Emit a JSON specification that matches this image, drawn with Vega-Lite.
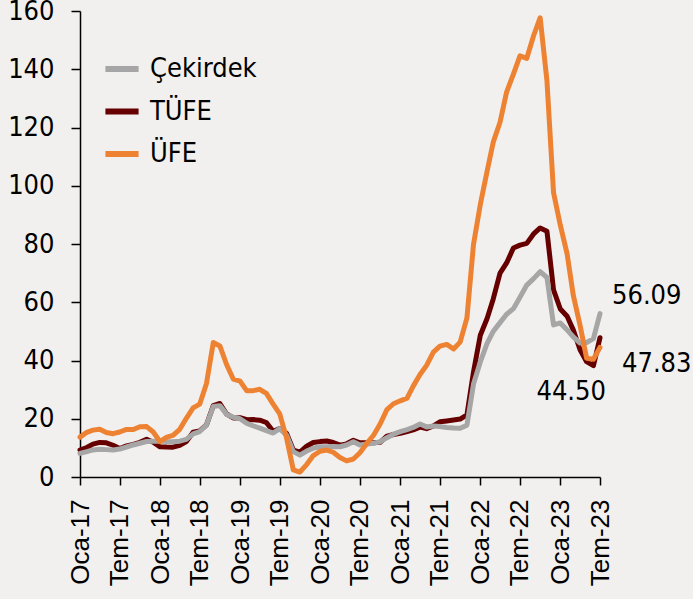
{
  "$schema": "https://vega.github.io/schema/vega-lite/v6.json",
  "width": 520,
  "height": 466,
  "autosize": "none",
  "padding": {"left": 80, "top": 11, "right": 93, "bottom": 122},
  "background": "#F2F0EE",
  "config": {"view": {"stroke": null}, "font": "DejaVu Sans Condensed, DejaVu Sans"},
  "data": {
    "format": {"parse": {"d": "utc:'%Y-%m'"}},
    "values": [
      {"d": "2017-01", "TÜFE": 9.22, "Çekirdek": 8.1, "ÜFE": 13.69},
      {"d": "2017-02", "TÜFE": 10.13, "Çekirdek": 8.7, "ÜFE": 15.36},
      {"d": "2017-03", "TÜFE": 11.29, "Çekirdek": 9.3, "ÜFE": 16.09},
      {"d": "2017-04", "TÜFE": 11.87, "Çekirdek": 9.5, "ÜFE": 16.37},
      {"d": "2017-05", "TÜFE": 11.72, "Çekirdek": 9.4, "ÜFE": 15.26},
      {"d": "2017-06", "TÜFE": 10.90, "Çekirdek": 9.3, "ÜFE": 14.87},
      {"d": "2017-07", "TÜFE": 9.79, "Çekirdek": 9.6, "ÜFE": 15.45},
      {"d": "2017-08", "TÜFE": 10.68, "Çekirdek": 10.3, "ÜFE": 16.34},
      {"d": "2017-09", "TÜFE": 11.20, "Çekirdek": 11.0, "ÜFE": 16.28},
      {"d": "2017-10", "TÜFE": 11.90, "Çekirdek": 11.6, "ÜFE": 17.28},
      {"d": "2017-11", "TÜFE": 12.98, "Çekirdek": 12.2, "ÜFE": 17.30},
      {"d": "2017-12", "TÜFE": 11.92, "Çekirdek": 12.3, "ÜFE": 15.47},
      {"d": "2018-01", "TÜFE": 10.35, "Çekirdek": 12.4, "ÜFE": 12.14},
      {"d": "2018-02", "TÜFE": 10.26, "Çekirdek": 12.2, "ÜFE": 13.71},
      {"d": "2018-03", "TÜFE": 10.23, "Çekirdek": 12.1, "ÜFE": 14.28},
      {"d": "2018-04", "TÜFE": 10.85, "Çekirdek": 12.3, "ÜFE": 16.37},
      {"d": "2018-05", "TÜFE": 12.15, "Çekirdek": 12.9, "ÜFE": 20.16},
      {"d": "2018-06", "TÜFE": 15.39, "Çekirdek": 14.8, "ÜFE": 23.71},
      {"d": "2018-07", "TÜFE": 15.85, "Çekirdek": 15.6, "ÜFE": 25.00},
      {"d": "2018-08", "TÜFE": 17.90, "Çekirdek": 17.9, "ÜFE": 32.13},
      {"d": "2018-09", "TÜFE": 24.52, "Çekirdek": 24.2, "ÜFE": 46.15},
      {"d": "2018-10", "TÜFE": 25.24, "Çekirdek": 24.5, "ÜFE": 45.01},
      {"d": "2018-11", "TÜFE": 21.62, "Çekirdek": 21.5, "ÜFE": 38.54},
      {"d": "2018-12", "TÜFE": 20.30, "Çekirdek": 20.5, "ÜFE": 33.64},
      {"d": "2019-01", "TÜFE": 20.35, "Çekirdek": 20.0, "ÜFE": 32.93},
      {"d": "2019-02", "TÜFE": 19.67, "Çekirdek": 18.4, "ÜFE": 29.59},
      {"d": "2019-03", "TÜFE": 19.71, "Çekirdek": 17.6, "ÜFE": 29.64},
      {"d": "2019-04", "TÜFE": 19.50, "Çekirdek": 16.8, "ÜFE": 30.12},
      {"d": "2019-05", "TÜFE": 18.71, "Çekirdek": 15.9, "ÜFE": 28.71},
      {"d": "2019-06", "TÜFE": 15.72, "Çekirdek": 15.1, "ÜFE": 25.04},
      {"d": "2019-07", "TÜFE": 16.65, "Çekirdek": 16.6, "ÜFE": 21.66},
      {"d": "2019-08", "TÜFE": 15.01, "Çekirdek": 14.4, "ÜFE": 13.45},
      {"d": "2019-09", "TÜFE": 9.26, "Çekirdek": 8.7, "ÜFE": 2.45},
      {"d": "2019-10", "TÜFE": 8.55, "Çekirdek": 7.5, "ÜFE": 1.70},
      {"d": "2019-11", "TÜFE": 10.56, "Çekirdek": 8.9, "ÜFE": 4.26},
      {"d": "2019-12", "TÜFE": 11.84, "Çekirdek": 9.9, "ÜFE": 7.36},
      {"d": "2020-01", "TÜFE": 12.15, "Çekirdek": 10.4, "ÜFE": 8.84},
      {"d": "2020-02", "TÜFE": 12.37, "Çekirdek": 10.4, "ÜFE": 9.26},
      {"d": "2020-03", "TÜFE": 11.86, "Çekirdek": 10.5, "ÜFE": 8.50},
      {"d": "2020-04", "TÜFE": 10.94, "Çekirdek": 10.4, "ÜFE": 6.71},
      {"d": "2020-05", "TÜFE": 11.39, "Çekirdek": 11.0, "ÜFE": 5.53},
      {"d": "2020-06", "TÜFE": 12.62, "Çekirdek": 12.1, "ÜFE": 6.17},
      {"d": "2020-07", "TÜFE": 11.76, "Çekirdek": 11.0, "ÜFE": 8.33},
      {"d": "2020-08", "TÜFE": 11.77, "Çekirdek": 11.3, "ÜFE": 11.53},
      {"d": "2020-09", "TÜFE": 11.75, "Çekirdek": 11.6, "ÜFE": 14.33},
      {"d": "2020-10", "TÜFE": 11.89, "Çekirdek": 12.1, "ÜFE": 18.20},
      {"d": "2020-11", "TÜFE": 14.03, "Çekirdek": 13.5, "ÜFE": 23.11},
      {"d": "2020-12", "TÜFE": 14.60, "Çekirdek": 14.7, "ÜFE": 25.15},
      {"d": "2021-01", "TÜFE": 14.97, "Çekirdek": 15.6, "ÜFE": 26.16},
      {"d": "2021-02", "TÜFE": 15.61, "Çekirdek": 16.3, "ÜFE": 27.09},
      {"d": "2021-03", "TÜFE": 16.19, "Çekirdek": 17.0, "ÜFE": 31.20},
      {"d": "2021-04", "TÜFE": 17.14, "Çekirdek": 18.2, "ÜFE": 35.17},
      {"d": "2021-05", "TÜFE": 16.59, "Çekirdek": 17.2, "ÜFE": 38.33},
      {"d": "2021-06", "TÜFE": 17.53, "Çekirdek": 17.5, "ÜFE": 42.89},
      {"d": "2021-07", "TÜFE": 18.95, "Çekirdek": 17.3, "ÜFE": 44.92},
      {"d": "2021-08", "TÜFE": 19.25, "Çekirdek": 17.0, "ÜFE": 45.52},
      {"d": "2021-09", "TÜFE": 19.58, "Çekirdek": 16.8, "ÜFE": 43.96},
      {"d": "2021-10", "TÜFE": 19.89, "Çekirdek": 16.7, "ÜFE": 46.31},
      {"d": "2021-11", "TÜFE": 21.31, "Çekirdek": 17.8, "ÜFE": 54.62},
      {"d": "2021-12", "TÜFE": 36.08, "Çekirdek": 31.9, "ÜFE": 79.89},
      {"d": "2022-01", "TÜFE": 48.69, "Çekirdek": 39.5, "ÜFE": 93.53},
      {"d": "2022-02", "TÜFE": 54.44, "Çekirdek": 45.9, "ÜFE": 105.01},
      {"d": "2022-03", "TÜFE": 61.14, "Çekirdek": 50.0, "ÜFE": 114.97},
      {"d": "2022-04", "TÜFE": 69.97, "Çekirdek": 53.0, "ÜFE": 121.82},
      {"d": "2022-05", "TÜFE": 73.50, "Çekirdek": 55.9, "ÜFE": 132.16},
      {"d": "2022-06", "TÜFE": 78.62, "Çekirdek": 57.8, "ÜFE": 138.31},
      {"d": "2022-07", "TÜFE": 79.60, "Çekirdek": 61.7, "ÜFE": 144.61},
      {"d": "2022-08", "TÜFE": 80.21, "Çekirdek": 65.9, "ÜFE": 143.75},
      {"d": "2022-09", "TÜFE": 83.45, "Çekirdek": 68.1, "ÜFE": 151.50},
      {"d": "2022-10", "TÜFE": 85.51, "Çekirdek": 70.5, "ÜFE": 157.69},
      {"d": "2022-11", "TÜFE": 84.39, "Çekirdek": 68.5, "ÜFE": 136.02},
      {"d": "2022-12", "TÜFE": 64.27, "Çekirdek": 52.2, "ÜFE": 97.72},
      {"d": "2023-01", "TÜFE": 57.68, "Çekirdek": 52.9, "ÜFE": 86.46},
      {"d": "2023-02", "TÜFE": 55.18, "Çekirdek": 50.5, "ÜFE": 76.61},
      {"d": "2023-03", "TÜFE": 50.51, "Çekirdek": 48.1, "ÜFE": 62.43},
      {"d": "2023-04", "TÜFE": 43.68, "Çekirdek": 46.0, "ÜFE": 52.11},
      {"d": "2023-05", "TÜFE": 39.59, "Çekirdek": 46.2, "ÜFE": 40.76},
      {"d": "2023-06", "TÜFE": 38.21, "Çekirdek": 47.5, "ÜFE": 40.42},
      {"d": "2023-07", "TÜFE": 47.83, "Çekirdek": 56.09, "ÜFE": 44.50}
    ]
  },
  "transform": [{"fold": ["TÜFE", "Çekirdek", "ÜFE"], "as": ["seri", "deger"]}],
  "encoding": {
    "x": {
      "field": "d",
      "type": "temporal",
      "scale": {
        "type": "utc",
        "domain": [
          {"year": 2017, "month": 1, "date": 1, "utc": true},
          {"year": 2023, "month": 7, "date": 1, "utc": true}
        ]
      },
      "axis": {
        "title": null,
        "grid": false,
        "values": [
          {"year": 2017, "month": 1, "date": 1, "utc": true},
          {"year": 2017, "month": 7, "date": 1, "utc": true},
          {"year": 2018, "month": 1, "date": 1, "utc": true},
          {"year": 2018, "month": 7, "date": 1, "utc": true},
          {"year": 2019, "month": 1, "date": 1, "utc": true},
          {"year": 2019, "month": 7, "date": 1, "utc": true},
          {"year": 2020, "month": 1, "date": 1, "utc": true},
          {"year": 2020, "month": 7, "date": 1, "utc": true},
          {"year": 2021, "month": 1, "date": 1, "utc": true},
          {"year": 2021, "month": 7, "date": 1, "utc": true},
          {"year": 2022, "month": 1, "date": 1, "utc": true},
          {"year": 2022, "month": 7, "date": 1, "utc": true},
          {"year": 2023, "month": 1, "date": 1, "utc": true},
          {"year": 2023, "month": 7, "date": 1, "utc": true}
        ],
        "labelExpr": "(utcmonth(datum.value) == 0 ? 'Oca' : 'Tem') + '-' + utcFormat(datum.value, '%y')",
        "labelAngle": 270,
        "labelFont": "Liberation Sans",
        "labelFontSize": 26,
        "labelColor": "#000000",
        "labelPadding": 14,
        "labelOverlap": false,
        "labelFlush": false,
        "domainColor": "#000000",
        "domainWidth": 1.5,
        "tickColor": "#000000",
        "tickWidth": 1.5,
        "tickSize": 8
      }
    },
    "y": {
      "field": "deger",
      "type": "quantitative",
      "scale": {"domain": [0, 160], "nice": false},
      "axis": {
        "title": null,
        "grid": false,
        "values": [0, 20, 40, 60, 80, 100, 120, 140, 160],
        "labelFontSize": 27,
        "labelColor": "#000000",
        "labelPadding": 17,
        "domainColor": "#000000",
        "domainWidth": 1.5,
        "tickColor": "#000000",
        "tickWidth": 1.5,
        "tickSize": 9
      }
    }
  },
  "layer": [
    {
      "mark": {"type": "line", "strokeWidth": 5, "strokeJoin": "round", "strokeCap": "round"},
      "encoding": {
        "color": {
          "field": "seri",
          "type": "nominal",
          "scale": {"domain": ["Çekirdek", "TÜFE", "ÜFE"], "range": ["#A6A6A6", "#660000", "#EE8233"]},
          "legend": {
            "title": null,
            "orient": "none",
            "legendX": 22,
            "legendY": 38,
            "symbolType": "stroke",
            "symbolSize": 1100,
            "symbolStrokeWidth": 6,
            "labelFontSize": 27,
            "labelColor": "#000000",
            "labelOffset": 8,
            "rowPadding": 9.5
          }
        }
      }
    },
    {
      "transform": [{"filter": "datum.seri == 'Çekirdek' && utcyear(datum.d) == 2023 && utcmonth(datum.d) == 6"}],
      "mark": {"type": "text", "align": "left", "baseline": "middle", "dx": 12, "dy": -18, "fontSize": 27, "color": "#000000"},
      "encoding": {"text": {"field": "deger", "type": "quantitative", "format": ".2f"}}
    },
    {
      "transform": [{"filter": "datum.seri == 'TÜFE' && utcyear(datum.d) == 2023 && utcmonth(datum.d) == 6"}],
      "mark": {"type": "text", "align": "left", "baseline": "middle", "dx": 22, "dy": 26, "fontSize": 27, "color": "#000000"},
      "encoding": {"text": {"field": "deger", "type": "quantitative", "format": ".2f"}}
    },
    {
      "transform": [{"filter": "datum.seri == 'ÜFE' && utcyear(datum.d) == 2023 && utcmonth(datum.d) == 6"}],
      "mark": {"type": "text", "align": "right", "baseline": "middle", "dx": 6, "dy": 45, "fontSize": 27, "color": "#000000"},
      "encoding": {"text": {"field": "deger", "type": "quantitative", "format": ".2f"}}
    }
  ]
}
